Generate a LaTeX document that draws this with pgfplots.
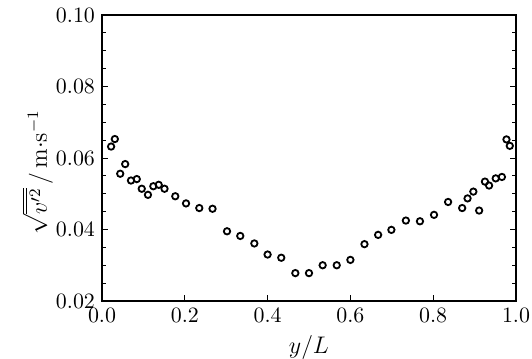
\documentclass[border=0pt]{standalone}
\usepackage{pgfplots}
\pgfplotsset{compat=1.18}
\begin{document}
\begin{tikzpicture}
\begin{axis}[
  scale only axis,
  width=207pt, height=143pt,
  xmin=0, xmax=1, ymin=0.02, ymax=0.10,
  xtick={0,0.2,0.4,0.6,0.8,1.0},
  ytick={0.02,0.04,0.06,0.08,0.10},
  minor y tick num=3,
  xtick pos=lower,
  ticklabel style={font=\fontsize{11}{13}\selectfont},
  label style={font=\fontsize{12}{14}\selectfont},
  xticklabel style={/pgf/number format/.cd,fixed,fixed zerofill,precision=1},
  yticklabel style={/pgf/number format/.cd,fixed,fixed zerofill,precision=2},
  scaled y ticks=false,
  axis line style={line width=1pt},
  tick style={black, line width=0.5pt},
  major tick length=3pt, minor tick length=2pt,
  xlabel={$y/L$},
  ylabel={$\sqrt{\overline{v'^2}}\,/\,\mathrm{m{\cdot}s^{-1}}$},
  ylabel style={at={(ticklabel cs:0.45)}, inner sep=0pt, yshift=-2pt},
]
\addplot[only marks, mark=o, mark size=1.6pt, mark options={line width=0.9pt, black}] coordinates {
(0.022,0.0632) (0.031,0.0653) (0.044,0.0556) (0.056,0.0583) (0.070,0.0537)
(0.084,0.0541) (0.096,0.0514) (0.111,0.0497) (0.124,0.0521) (0.137,0.0525)
(0.151,0.0514) (0.177,0.0493) (0.203,0.0473) (0.235,0.0460) (0.267,0.0458)
(0.302,0.0395) (0.334,0.0382) (0.368,0.0361) (0.400,0.0330) (0.433,0.0321)
(0.467,0.0278) (0.500,0.0278) (0.533,0.0300) (0.567,0.0300) (0.600,0.0315)
(0.634,0.0359) (0.667,0.0385) (0.699,0.0399) (0.734,0.0425) (0.768,0.0423)
(0.802,0.0441) (0.836,0.0477) (0.870,0.0460) (0.883,0.0487) (0.897,0.0506)
(0.911,0.0453) (0.925,0.0534) (0.935,0.0523) (0.951,0.0543) (0.966,0.0547)
(0.977,0.0652) (0.985,0.0634)
};
\coordinate (O) at (rel axis cs:0,0);
\end{axis}
\pgfresetboundingbox
\path[use as bounding box] (O) ++(-51pt,-29pt) rectangle ++(266pt,179.5pt);
\end{tikzpicture}
\end{document}
